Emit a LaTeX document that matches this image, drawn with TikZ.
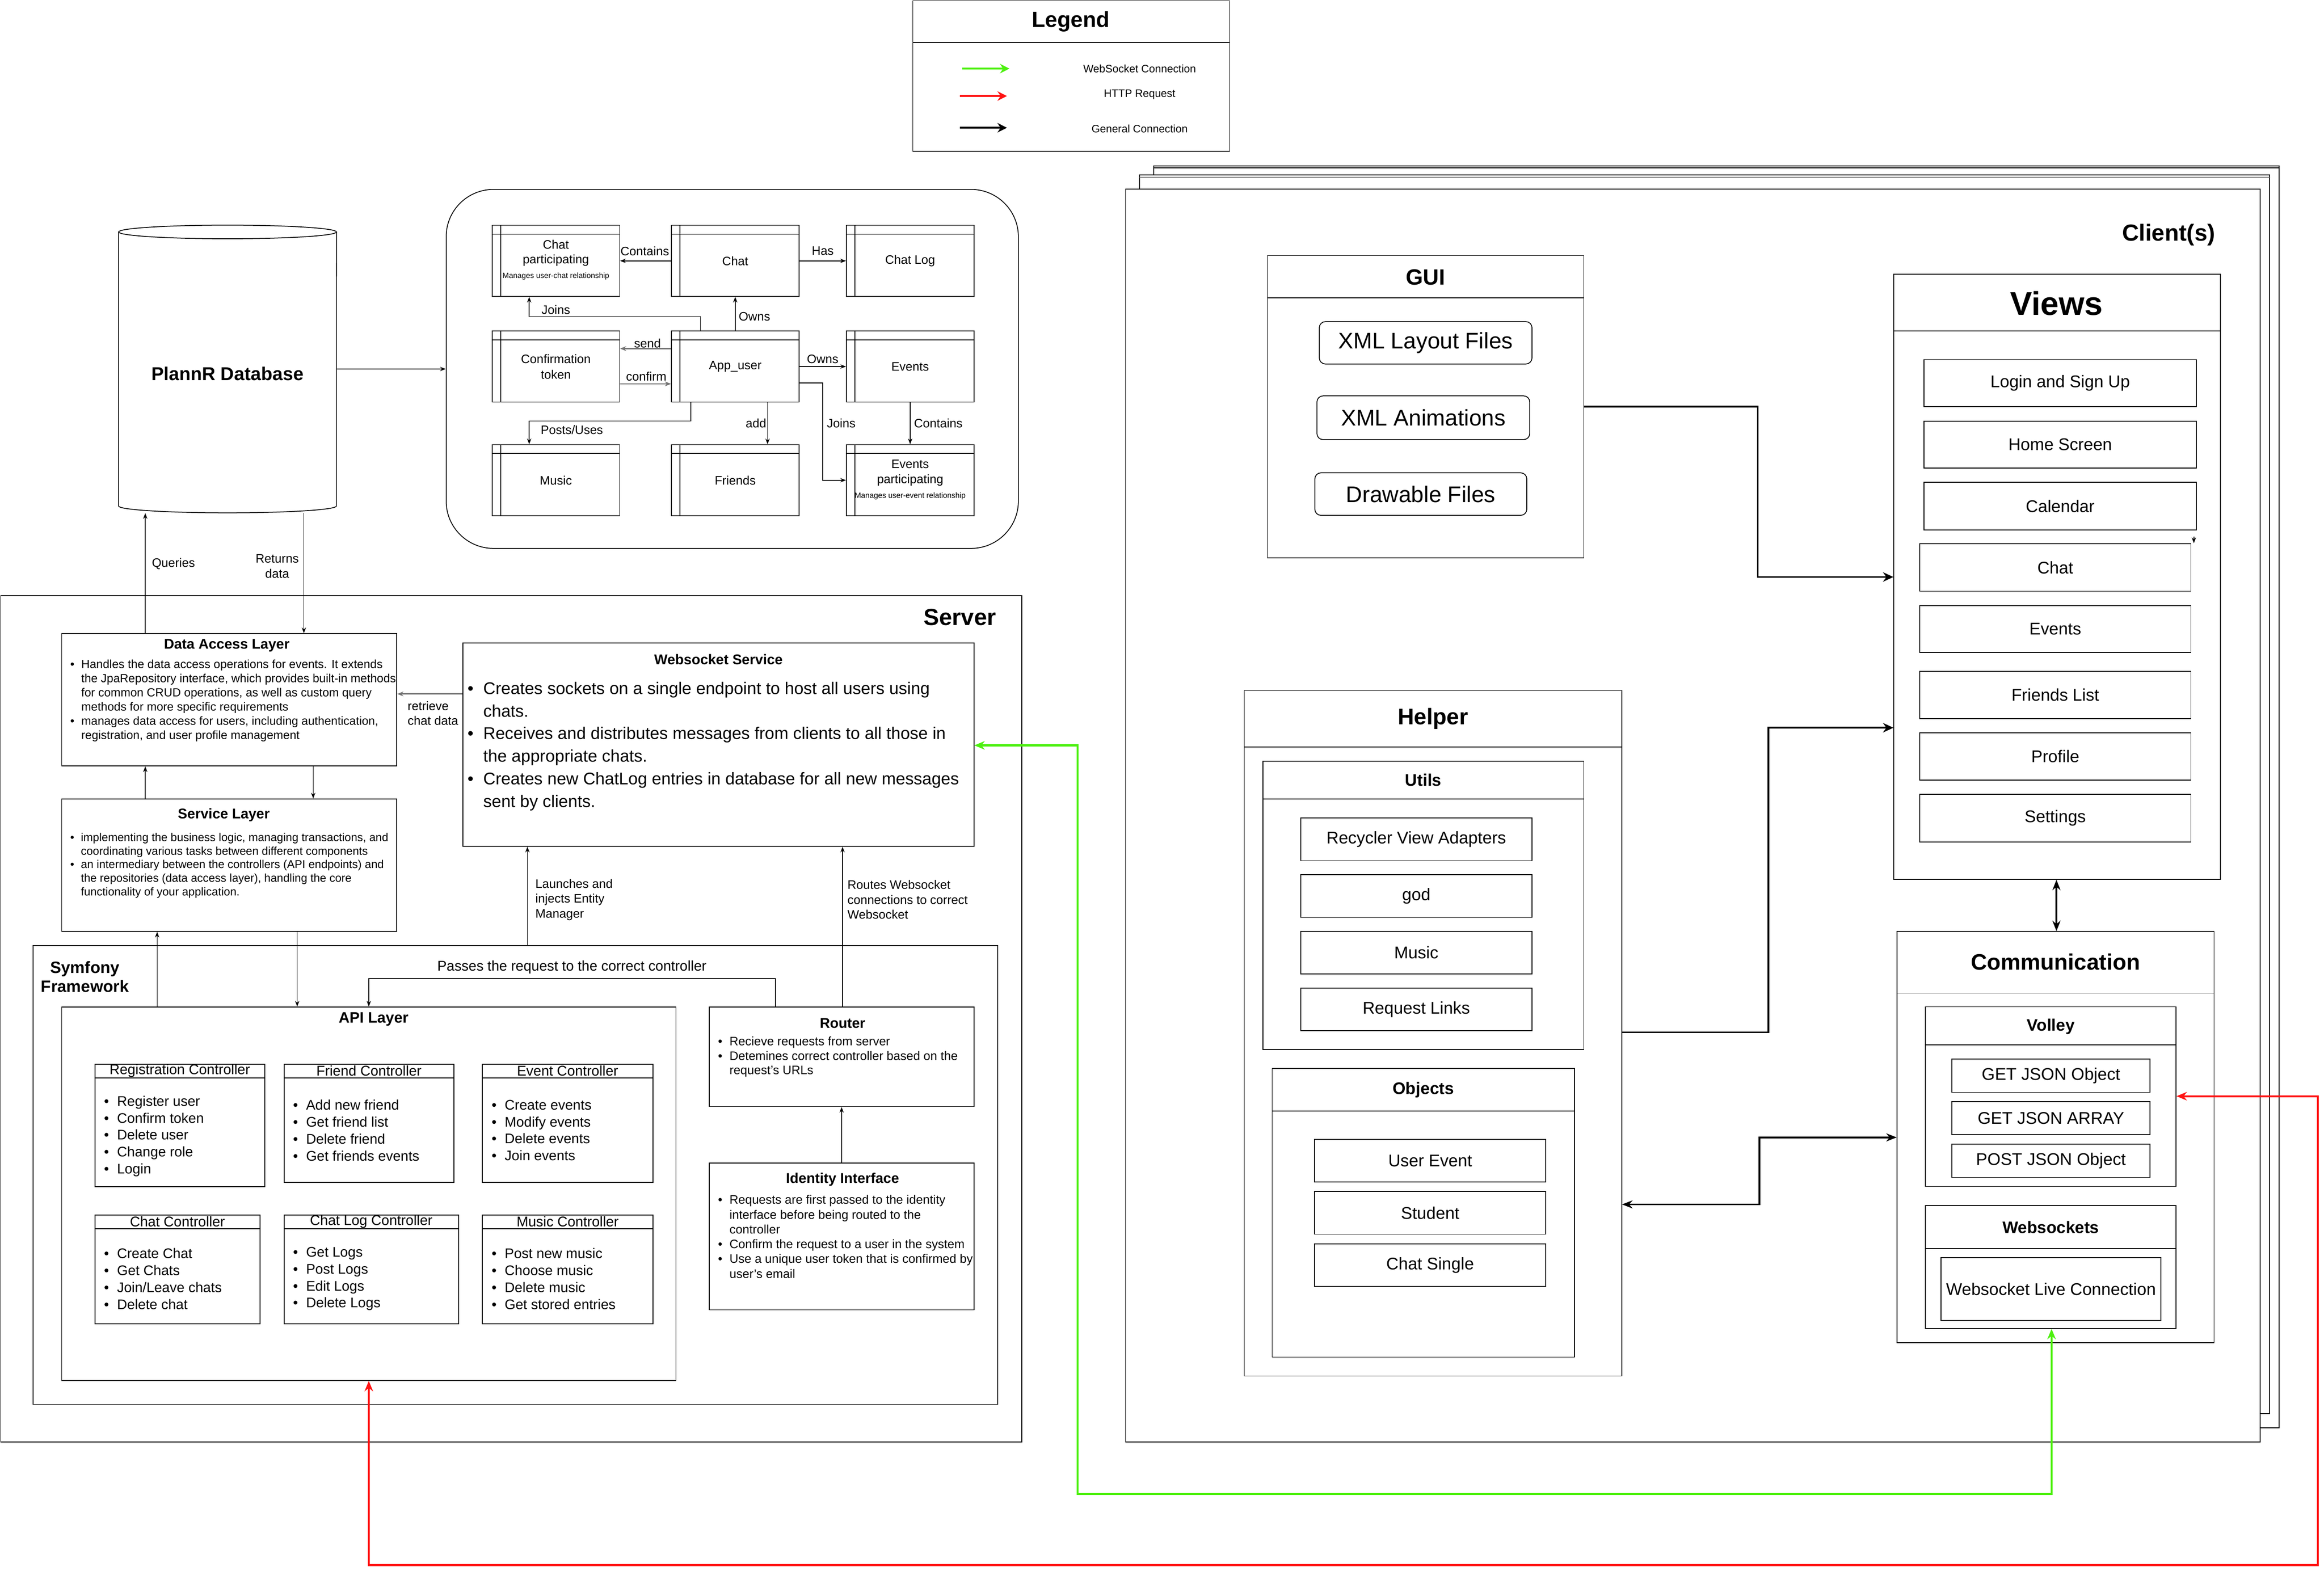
\documentclass[tikz,border=0pt]{standalone}
\usepackage{fontspec}
\setmainfont{Liberation Sans}
\usetikzlibrary{arrows.meta, calc, fit, positioning}
\definecolor{wsgreen}{HTML}{4DF00F}
\definecolor{httpred}{HTML}{FF1212}
\newcommand{\fsz}[2]{\fontsize{#1}{#2}\selectfont}
\newcommand{\bl}{\makebox[0.93em][l]{\textbullet}}
\newcommand{\ind}{\hspace*{0.93em}}
\tikzset{
    my-box/.style={
        draw, inner sep=0pt, line width=0.5pt
    },
    my-round/.style={
        my-box, rounded corners=0.13cm
    },
    my-cap-s/.style={
        label={[inner sep=0pt, font=\fsz{7.4}{9}]center:#1}
    },
    my-cap-m/.style={
        label={[inner sep=0pt, font=\fsz{10.2}{12}]center:#1}
    },
    my-cap-l/.style={
        label={[inner sep=0pt, font=\fsz{13.6}{15}]center:#1}
    },
    my-text/.style={
        inner sep=0pt, font=\fsz{7.4}{9}
    },
    my-list/.style={
        inner sep=0pt, align=left, anchor=west
    },
    my-arrow/.style={
        -{Stealth[length=1.2mm, width=0.9mm]}, line width=0.45pt
    },
    my-grey-arrow/.style={
        -{Stealth[length=1.3mm, width=1mm]}, black!55, line width=0.8pt
    },
    my-thick-arrow/.style={
        -{Stealth[length=2.2mm, width=2mm]}, line width=1.1pt
    },
    my-both-arrow/.style={
        {Stealth[length=2.2mm, width=1.7mm]}-{Stealth[length=2.2mm, width=1.7mm]}, line width=1.1pt
    },
    my-ws-arrow/.style={
        {Stealth[length=2.2mm, width=1.8mm]}-{Stealth[length=2.2mm, width=1.8mm]}, wsgreen, line width=1.2pt
    },
    my-http-arrow/.style={
        {Stealth[length=2.2mm, width=1.8mm]}-{Stealth[length=2.2mm, width=1.8mm]}, httpred, line width=1.2pt
    },
    my-legend-arrow/.style={
        -{Stealth[length=2mm, width=2mm]}, line width=1.2pt
    },
}
\begin{document}
\begin{tikzpicture}[x=0.03135cm, y=-0.03135cm]

        \useasboundingbox (0,0) rectangle (1567.8,1060.6);

        % LEGEND
        \node[my-box, fit={(615.8,0.5) (829.5,102)}] (LEGEND) {};
        \node[font=\bfseries\fsz{13.2}{15}] (LEGENDT) at (722.4,14.4) {Legend};
        \coordinate (LGA) at (649,46.3);
        \coordinate (LGB) at (681,46.3);
        \coordinate (LRA) at (647.6,64.8);
        \coordinate (LRB) at (679.3,64.8);
        \coordinate (LKA) at (647.6,86.2);
        \coordinate (LKB) at (679.3,86.2);
        \draw[my-legend-arrow, wsgreen] (LGA) -- (LGB);
        \draw[my-legend-arrow, httpred] (LRA) -- (LRB);
        \draw[my-legend-arrow] (LKA) -- (LKB);
        \node[font=\fsz{6.5}{8}] (LGT) at (768.8,46.3) {WebSocket Connection};
        \node[font=\fsz{6.5}{8}] (LRT) at (768.8,63.8) {HTTP Request};
        \node[font=\fsz{6.5}{8}] (LKT) at (768.8,87) {General Connection};

        % DATABASE
        \node[fit={(80,152) (227,346)}, inner sep=0pt] (DB) {};
        \draw[line width=0.5pt] (80,156.5) -- (80,341.4) arc[start angle=180, end angle=360, x radius=2.304cm, y radius=0.144cm] -- (227,156.5);
        \draw[line width=0.5pt] (153.5,156.5) ellipse [x radius=2.304cm, y radius=0.144cm];
        \node[font=\bfseries\fsz{11.2}{13}] (DBT) at (153.5,252) {PlannR Database};

        % ENTITIES
        \node[my-box, rounded corners=1cm, fit={(301,127.8) (687,370)}] (ERBOX) {};
        \node[my-box, fit={(332,152) (418,200)}] (CPART) {};
        \node[my-box, fit={(453,152) (539,200)}, my-cap-s=Chat] (CHAT) {};
        \node[my-box, fit={(571,152) (657,200)}, my-cap-s=Chat Log] (CHATLOG) {};
        \node[my-box, fit={(332,223.3) (418,271.3)}] (CTOKEN) {};
        \node[my-box, fit={(453,223.3) (539,271.3)}, my-cap-s=App\_user] (APPUSER) {};
        \node[my-box, fit={(571,223.3) (657,271.3)}, my-cap-s=Events] (EVENTS) {};
        \node[my-box, fit={(332,300) (418,348)}, my-cap-s=Music] (MUSIC) {};
        \node[my-box, fit={(453,300) (539,348)}, my-cap-s=Friends] (FRIENDS) {};
        \node[my-box, fit={(571,300) (657,348)}] (EVPART) {};
        \foreach \N in {CPART, CHAT, CHATLOG, CTOKEN, APPUSER, EVENTS, MUSIC, FRIENDS, EVPART} {
            \draw[line width=0.5pt] ($(\N.north west)+(0,6.3)$) -- ($(\N.north east)+(0,6.3)$);
            \draw[line width=0.5pt] ($(\N.north west)+(6,0)$) -- ($(\N.south west)+(6,0)$);
        }
        \node[my-text, align=center] (CPARTT) at (375,170.7) {Chat\\participating};
        \node[inner sep=0pt, font=\fsz{4.6}{5}] (CPARTS) at (375,186.3) {Manages user-chat relationship};
        \node[my-text, align=center, font=\fsz{7.4}{9.4}] (CTOKENT) at (375,247.3) {Confirmation\\token};
        \node[my-text, align=center] (EVPARTT) at (614,319) {Events\\participating};
        \node[inner sep=0pt, font=\fsz{4.6}{5}] (EVPARTS) at (614,334.6) {Manages user-event relationship};

        % ENTITY CONNECTIONS
        \draw[my-arrow] (DB) -- (ERBOX);
        \draw[my-arrow] (CHAT) -- (CPART);
        \draw[my-arrow] (CHAT) -- (CHATLOG);
        \draw[my-arrow] (APPUSER) -- (CHAT);
        \draw[my-arrow] (472.6,0 |- APPUSER.north) |- (357,213.6) -- (357,0 |- CPART.south);
        \draw[my-grey-arrow] (APPUSER.west |- 0,235.2) -- (CTOKEN.east |- 0,235.2);
        \draw[my-grey-arrow] (CTOKEN.east |- 0,259) -- (APPUSER.west |- 0,259);
        \draw[my-arrow] (APPUSER) -- (EVENTS);
        \draw[my-arrow] (APPUSER.east |- 0,258.4) -| (555,324) -- (EVPART.west);
        \draw[my-arrow] (EVENTS) -- (EVPART);
        \draw[my-arrow] (517.8,0 |- APPUSER.south) -- (517.8,0 |- FRIENDS.north);
        \draw[my-arrow] (466,0 |- APPUSER.south) |- (357,284) -- (357,0 |- MUSIC.north);
        \node[my-text] (LCONT) at (435,169.4) {Contains};
        \node[my-text] (LHAS) at (555,169.4) {Has};
        \node[my-text] (LOWNS) at (509,213.6) {Owns};
        \node[my-text] (LJOINS) at (375,209) {Joins};
        \node[my-text] (LSEND) at (436.8,231.6) {send};
        \node[my-text] (LCONF) at (436,254) {confirm};
        \node[my-text] (LOWNSB) at (555,242.4) {Owns};
        \node[my-text] (LJOINSB) at (567.5,285.5) {Joins};
        \node[my-text] (LCONTB) at (633,285.5) {Contains};
        \node[my-text] (LADD) at (510,285.5) {add};
        \node[my-text] (LPOSTS) at (385.8,290) {Posts/Uses};

        % SERVER
        \node[my-box, fit={(0.5,402) (689.2,973)}] (SERVER) {};
        \node[font=\bfseries\fsz{14}{16}] (SERVERT) at (647.6,416.6) {Server};

        \node[my-box, fit={(41.6,427.5) (267.7,516.8)}] (DAL) {};
        \node[font=\bfseries\fsz{8.5}{10}] (DALT) at (153,435.5) {Data Access Layer};
        \node[my-list, font=\fsz{7.1}{8.57}] (DALL) at (47.2,472.8) {\bl Handles the data access operations for events. It extends\\\ind the JpaRepository interface, which provides built-in methods\\\ind for common CRUD operations, as well as custom query\\\ind methods for more specific requirements\\\bl manages data access for users, including authentication,\\\ind registration, and user profile management};

        \node[my-box, fit={(41.6,539) (267.7,628.4)}] (SL) {};
        \node[font=\bfseries\fsz{8.5}{10}] (SLT) at (151,550) {Service Layer};
        \node[my-list, font=\fsz{6.85}{8.17}] (SLL) at (47.2,583.9) {\bl implementing the business logic, managing transactions, and\\\ind coordinating various tasks between different components\\\bl an intermediary between the controllers (API endpoints) and\\\ind the repositories (data access layer), handling the core\\\ind functionality of your application.};

        \node[my-box, fit={(312.4,433.8) (657,571)}] (WSS) {};
        \node[font=\bfseries\fsz{8.5}{10}] (WSST) at (484.7,445) {Websocket Service};
        \node[my-list, font=\fsz{10.2}{13.6}] (WSSL) at (315.2,503.5) {\bl Creates sockets on a single endpoint to host all users using\\\ind chats.\\\bl Receives and distributes messages from clients to all those in\\\ind the appropriate chats.\\\bl Creates new ChatLog entries in database for all new messages\\\ind sent by clients.};

        \node[my-box, fit={(22.4,638) (673,947.5)}] (SYMF) {};
        \node[font=\bfseries\fsz{9.9}{11.4}, align=center] (SYMFT) at (57.3,659) {Symfony\\Framework};

        \node[my-box, fit={(41.6,679.4) (456,931.4)}] (API) {};
        \node[font=\bfseries\fsz{9.1}{11}] (APIT) at (252,687.8) {API Layer};

        % CONTROLLERS
        \foreach \N/\xa/\ya/\xb/\yb/\T in {REGC/64/718/178.6/800.7/Registration Controller,
            FRIC/191.6/718/306.2/797.7/Friend Controller,
            EVTC/325.4/718/440.4/797.7/Event Controller,
            CHTC/64/819.8/175.4/893.2/Chat Controller,
            CLGC/191.6/819.8/309.3/893.2/Chat Log Controller,
            MUSC/325.4/819.8/440.4/893.2/Music Controller} {
            \node[my-box, fit={(\xa,\ya) (\xb,\yb)}] (\N) {};
            \draw[line width=0.5pt] ($(\N.north west)+(0,9.5)$) -- ($(\N.north east)+(0,9.5)$);
            \node[font=\fsz{8.5}{10}] (\N-T) at ($(\N.north)+(0,4.8)$) {\T};
        }
        \node[my-list, font=\fsz{8.4}{10.2}] (REGCL) at (70,766.6) {\bl Register user\\\bl Confirm token\\\bl Delete user\\\bl Change role\\\bl Login};
        \node[my-list, font=\fsz{8.4}{10.2}] (FRICL) at (197.5,762.65) {\bl Add new friend\\\bl Get friend list\\\bl Delete friend\\\bl Get friends events};
        \node[my-list, font=\fsz{8.4}{10.2}] (EVTCL) at (331.5,762.65) {\bl Create events\\\bl Modify events\\\bl Delete events\\\bl Join events};
        \node[my-list, font=\fsz{8.4}{10.2}] (CHTCL) at (70,862.8) {\bl Create Chat\\\bl Get Chats\\\bl Join/Leave chats\\\bl Delete chat};
        \node[my-list, font=\fsz{8.4}{10.2}] (CLGCL) at (197.5,862.8) {\bl Get Logs\\\bl Post Logs\\\bl Edit Logs\\\bl Delete Logs};
        \node[my-list, font=\fsz{8.4}{10.2}] (MUSCL) at (331.5,862.8) {\bl Post new music\\\bl Choose music\\\bl Delete music\\\bl Get stored entries};

        % ROUTER AND IDENTITY
        \node[my-box, fit={(478.5,679.4) (657,746.6)}] (ROUTER) {};
        \node[font=\bfseries\fsz{8.5}{10}] (ROUTERT) at (568.4,690.4) {Router};
        \node[my-list, font=\fsz{7.4}{8.7}] (ROUTERL) at (484.2,713.05) {\bl Recieve requests from server\\\bl Detemines correct controller based on the\\\ind request's URLs};
        \node[my-box, fit={(478.5,784.6) (657,883.7)}] (IDENT) {};
        \node[font=\bfseries\fsz{8.5}{10}] (IDENTT) at (568.4,795.9) {Identity Interface};
        \node[my-list, font=\fsz{7.4}{8.9}] (IDENTL) at (484.2,834.35) {\bl Requests are first passed to the identity\\\ind interface before being routed to the\\\ind controller\\\bl Confirm the request to a user in the system\\\bl Use a unique user token that is confirmed by\\\ind user's email};

        % SERVER CONNECTIONS
        \draw[my-arrow] (98,0 |- DAL.north) -- (98,0 |- DB.south);
        \draw[my-arrow] (205,0 |- DB.south) -- (205,0 |- DAL.north);
        \node[my-text] (LQUERIES) at (117,380.4) {Queries};
        \node[my-text, align=center] (LRETURNS) at (187,382) {Returns\\data};
        \draw[my-arrow] (98,0 |- SL.north) -- (98,0 |- DAL.south);
        \draw[my-arrow] (211.3,0 |- DAL.south) -- (211.3,0 |- SL.north);
        \draw[my-arrow] (106,0 |- API.north) -- (106,0 |- SL.south);
        \draw[my-arrow] (200.5,0 |- SL.south) -- (200.5,0 |- API.north);
        \draw[my-grey-arrow] (WSS.west |- 0,468.2) -- (DAL.east |- 0,468.2);
        \node[my-text, align=left, anchor=west, font=\fsz{7.4}{8.7}] (LRETRIEVE) at (274.8,481.2) {retrieve\\chat data};
        \draw[my-arrow] (355.8,0 |- SYMF.north) -- (355.8,0 |- WSS.south);
        \node[my-text, align=left, anchor=west] (LLAUNCH) at (361,607) {Launches and\\injects Entity\\Manager};
        \draw[my-arrow] (568.4,0 |- ROUTER.north) -- (568.4,0 |- WSS.south);
        \node[my-text, align=left, anchor=west] (LROUTES) at (571.5,607) {Routes Websocket\\connections to correct\\Websocket};
        \draw[my-arrow] (523.2,0 |- ROUTER.north) |- (248.8,660.3) -- (248.8,0 |- API.north);
        \node[inner sep=0pt, font=\fsz{8.5}{10}] (LPASSES) at (385.8,652.6) {Passes the request to the correct controller};
        \draw[my-arrow] (IDENT) -- (ROUTER);

        % CLIENTS
        \draw[line width=0.5pt] (778.4,111.9) rectangle (1537.6,963.3);
        \draw[line width=0.5pt] (778.4,113.2) -- (1537.6,113.2);
        \draw[line width=0.5pt, fill=white] (768.8,118) rectangle (1531,953.8);
        \draw[line width=0.8pt, black!50] (768.8,119.6) -- (1531,119.6);
        \node[my-box, fill=white, fit={(759.3,127.7) (1524.8,973)}] (CLIENT) {};
        \node[font=\bfseries\fsz{14}{16}] (CLIENTT) at (1463,158.6) {Client(s)};

        % GUI
        \node[my-box, fit={(855,172.4) (1068.4,376.4)}] (GUI) {};
        \node[font=\bfseries\fsz{13.3}{15}] (GUIT) at (961.7,187) {GUI};
        \node[my-round, fit={(890,217) (1033.5,245.6)}, my-cap-l=XML Layout Files] (XMLL) {};
        \node[my-round, fit={(888.4,267.1) (1032,296.6)}, my-cap-l=XML Animations] (XMLA) {};
        \node[my-round, fit={(887,319) (1030,347.7)}, my-cap-l=Drawable Files] (DRAW) {};

        % VIEWS
        \node[my-box, fit={(1277.6,185) (1498,593.3)}] (VIEWS) {};
        \node[font=\bfseries\fsz{19.8}{22}] (VIEWST) at (1387.3,204.7) {Views};
        \node[my-box, fit={(1298,242.6) (1481.7,274.4)}, my-cap-m=Login and Sign Up] (LOGIN) {};
        \node[my-box, fit={(1298,284.2) (1481.7,315.8)}, my-cap-m=Home Screen] (HOME) {};
        \node[my-box, fit={(1298,325.4) (1481.7,357.5)}, my-cap-m=Calendar] (CALENDAR) {};
        \node[my-box, fit={(1295,366.8) (1478,398.9)}, my-cap-m=Chat] (VCHAT) {};
        \node[my-box, fit={(1295,408.5) (1478,440.3)}, my-cap-m=Events] (VEVENTS) {};
        \node[my-box, fit={(1295,453) (1478,484.9)}, my-cap-m=Friends List] (FLIST) {};
        \node[my-box, fit={(1295,494.4) (1478,526.4)}, my-cap-m=Profile] (PROFILE) {};
        \node[my-box, fit={(1295,536) (1478,568)}, my-cap-m=Settings] (SETTINGS) {};
        \coordinate (STRAY) at (1480,362);
        \draw[my-arrow] (STRAY) -- (1480,0 |- VCHAT.north);

        % HELPER
        \node[my-box, fit={(839.4,465.9) (1094,928.4)}] (HELPER) {};
        \node[font=\bfseries\fsz{13.6}{15}] (HELPERT) at (966.7,484.9) {Helper};
        \node[my-box, fit={(851.9,513.5) (1068.4,708.1)}] (UTILS) {};
        \node[font=\bfseries\fsz{10.1}{12}] (UTILST) at (960.2,526.4) {Utils};
        \node[my-box, fit={(877.4,551.8) (1033.5,580.7)}, my-cap-m=Recycler View Adapters] (RVA) {};
        \node[my-box, fit={(877.4,590.2) (1033.5,619)}, my-cap-m=god] (GOD) {};
        \node[my-box, fit={(877.4,628.5) (1033.5,657)}, my-cap-m=Music] (UMUSIC) {};
        \node[my-box, fit={(877.4,666.7) (1033.5,695.4)}, my-cap-m=Request Links] (RLINKS) {};
        \node[my-box, fit={(858.2,720.9) (1062.2,915.6)}] (OBJECTS) {};
        \node[font=\bfseries\fsz{10.1}{12}] (OBJECTST) at (960.2,735.4) {Objects};
        \node[my-box, fit={(886.8,768.7) (1042.8,797.5)}, my-cap-m=User Event] (UEVENT) {};
        \node[my-box, fit={(886.8,803.8) (1042.8,832.7)}, my-cap-m=Student] (STUDENT) {};
        \node[my-box, fit={(886.8,839.3) (1042.8,868)}, my-cap-m=Chat Single] (CSINGLE) {};

        % COMMUNICATION
        \node[my-box, fit={(1279.8,628.5) (1493.6,905.9)}] (COMM) {};
        \node[font=\bfseries\fsz{13.5}{15}] (COMMT) at (1386.7,649) {Communication};
        \node[my-box, fit={(1299,679.3) (1468,800.5)}] (VOLLEY) {};
        \node[font=\bfseries\fsz{10}{12}] (VOLLEYT) at (1383.5,692.5) {Volley};
        \node[my-box, fit={(1316.8,714.5) (1450.4,737)}, my-cap-m=GET JSON Object] (GJO) {};
        \node[my-box, fit={(1316.8,743.3) (1450.4,765.5)}, my-cap-m=GET JSON ARRAY] (GJA) {};
        \node[my-box, fit={(1316.8,772) (1450.4,794.4)}, my-cap-m=POST JSON Object] (PJO) {};
        \node[my-box, fit={(1299,813.4) (1468,896.3)}] (WSOCKS) {};
        \node[font=\bfseries\fsz{10}{12}] (WSOCKST) at (1383.5,828) {Websockets};
        \node[my-box, fit={(1309.5,848.5) (1457.8,891)}, my-cap-m=Websocket Live Connection] (WSLIVE) {};

        % HEADER LINES
        \foreach \N/\H in {LEGEND/28.7, GUI/201, VIEWS/223.4, HELPER/504, UTILS/539.1, OBJECTS/749.7, COMM/670, VOLLEY/705, WSOCKS/842.4}
            \draw[line width=0.5pt] (\N.west |- 0,\H) -- (\N.east |- 0,\H);

        % CLIENT CONNECTIONS
        \draw[my-thick-arrow] (GUI.east |- 0,274.2) -| (1185.8,389.3) -- (VIEWS.west |- 0,389.3);
        \draw[my-thick-arrow] (HELPER.east |- 0,696.5) -| (1193,491) -- (VIEWS.west |- 0,491);
        \draw[my-both-arrow] (1387.3,0 |- VIEWS.south) -- (1387.3,0 |- COMM.north);
        \draw[my-both-arrow] (COMM.west |- 0,767.4) -| (1187,812.6) -- (HELPER.east |- 0,812.6);

        % WEBSOCKET AND HTTP CONNECTIONS
        \draw[my-ws-arrow] (WSS.east |- 0,502.9) -- (727,502.9) |- (1384,1008) -- (1384,0 |- WSOCKS.south);
        \draw[my-http-arrow] (248.8,0 |- API.south) -- (248.8,1056) -| (1563.6,739.6) -- (VOLLEY.east |- 0,739.6);

\end{tikzpicture}
\end{document}
